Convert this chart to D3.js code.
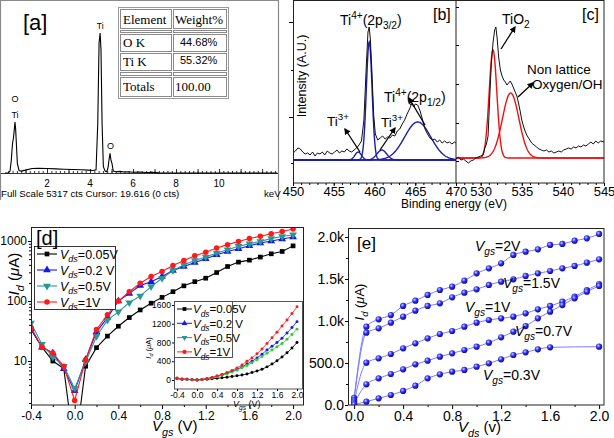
<!DOCTYPE html>
<html>
<head>
<meta charset="utf-8">
<script src="https://cdn.jsdelivr.net/npm/d3@7"></script>
<style>
  body { margin: 0; background: #fff; }
  svg { display: block; font-family: "Liberation Sans", Arial, sans-serif; }
</style>
</head>
<body>
<svg id="fig" width="614" height="438"></svg>
<script>
// ---------- [a] EDS spectrum ----------
const edsKeV = [0.05,0.2,0.28,0.34,0.37,0.40,0.44,0.47,0.51,0.54,0.57,0.62,0.7,0.8,1.0,1.3,1.6,2.0,2.4,2.8,3.2,3.6,3.9,4.15,4.28,4.36,4.42,4.47,4.51,4.56,4.62,4.7,4.78,4.84,4.88,4.93,4.97,5.02,5.08,5.2,5.4,5.6,5.8,6.0,6.3,6.6,6.9,7.2,12.7];
const edsCounts = [0,10,60,400,700,944,1100,1300,1605,1400,1000,300,80,60,90,140,150,140,130,120,110,100,90,80,100,1573,4090,4404,3870,1573,200,60,40,180,400,620,420,300,60,40,50,30,40,25,30,15,20,5,0];
const edsTicks = [2, 4, 6, 8, 10];
const edsTable = [["O K", "44.68%"], ["Ti K", "55.32%"]];
const edsTotal = ["Totals", "100.00"];

// ---------- [b] Ti 2p XPS ----------
const tiEnergy = [450.0,450.3,450.6,450.9,451.2,451.5,451.8,452.1,452.4,452.7,453.0,453.3,453.6,453.9,454.2,454.5,454.8,455.1,455.4,455.7,456.0,456.3,456.6,456.9,457.2,457.5,457.8,458.1,458.4,458.7,459.0,459.2,459.35,459.5,459.7,459.9,460.1,460.4,460.7,461.0,461.3,461.6,461.9,462.2,462.5,462.8,463.1,463.4,463.7,464.0,464.3,464.6,464.8,465.0,465.3,465.6,465.9,466.2,466.5,466.8,467.1,467.4,467.7,468.0,468.3,468.6,468.9,469.2,469.5,469.8,470.0];
const tiIntensity = [7,9,12,11,8,6,7,5,8,4,7,6,8,5,9,7,6,8,10,7,9,8,11,9,8,10,12,15,19,40,95,128,133,120,85,45,26,20,22,24,21,23,22,25,24,29,31,36,40,46,51,57,53,56,55,49,40,31,26,22,20,21,18,20,17,19,17,18,16,18,17];
const tiPeakCenter = [458.0, 459.35, 460.9, 465.3];
const tiPeakHeight = [8, 118, 10, 38];
const tiPeakWidth = [0.4, 0.35, 0.6, 1.6];
const tiTicks = [450, 455, 460, 465, 470];

// ---------- [c] O 1s XPS ----------
const oEnergy = [527.0,527.3,527.6,527.9,528.2,528.5,528.8,529.1,529.4,529.7,530.0,530.3,530.5,530.7,530.9,531.1,531.3,531.5,531.7,531.85,532.0,532.2,532.4,532.6,532.8,533.0,533.2,533.4,533.6,533.8,534.0,534.2,534.4,534.6,534.8,535.0,535.2,535.4,535.6,535.9,536.2,536.5,536.8,537.1,537.4,537.7,538.0,538.3,538.6,538.9,539.2,539.5,539.8,540.1,540.4,540.7,541.0,541.3,541.6,541.9,542.2,542.5,542.8,543.1,543.4,543.7,544.0,544.3,544.6,545.0];
const oIntensity = [-1,1,-2,-1,-3,-5,-3,-2,0,1,2,3,10,14,22,60,95,115,128,131,120,100,88,82,78,76,73,75,77,74,70,66,62,55,47,38,32,27,23,19,15,13,11,9,8,7,8,6,7,5,6,7,6,8,9,10,9,11,10,12,11,13,12,14,16,14,17,15,17,16];
const oPeakCenter = [531.5, 533.65];
const oPeakHeight = [108, 65];
const oPeakWidth = [0.47, 1.0];
const oTicks = [530, 535, 540, 545];

// ---------- [d] transfer curves ----------
const vgs = [-0.4,-0.3,-0.2,-0.1,0.0,0.1,0.2,0.3,0.4,0.5,0.6,0.7,0.8,0.9,1.0,1.1,1.2,1.3,1.4,1.5,1.6,1.7,1.8,1.9,2.0];
const idVds005 = [34,17,10,7.5,0.3,8.2,16.7,26,38,53,71,92,115,143,179,210,240,298,376,445,480,540,612,670,830];
const idVds02  = [34,17,13.6,7.4,3.2,10.5,30.6,53,100,134,181,210,256,322,376,439,505,590,671,745,836,925,1000,1080,1170];
const idVds05  = [43,19,11.7,8.2,3.5,9.6,25.9,48,66,94,121,174,240,322,401,474,540,630,716,815,902,985,1100,1190,1270];
const idVds1   = [36,17,13.6,8.2,2.2,10.5,33.5,59,100,143,198,256,310,390,474,567,650,763,870,985,1100,1197,1320,1445,1590];
const dsLabels = ["0.05V", "0.2 V", "0.5V", "1V"];
// inset (linear scale)
const inVds005 = [34,17,10,7,1,8,16,26,36,48,60,75,90,108,128,160,190,230,280,340,410,490,580,680,800];
const inVds02  = [34,17,14,7,3,10,28,50,80,110,145,185,225,280,340,400,470,550,640,720,800,890,1000,1120,1245];
const inVds05  = [43,19,12,8,4,10,26,45,70,100,130,170,210,260,310,370,430,500,570,640,710,780,870,970,1085];
const inVds1   = [36,17,14,8,2,10,30,55,85,120,160,205,255,320,400,470,560,660,780,900,1020,1150,1280,1420,1560];
const dXTicks = [-0.4, 0.0, 0.4, 0.8, 1.2, 1.6, 2.0];
const dYTicks = [10, 100, 1000];
const inYTicks = [0, 400, 800, 1200, 1600];

// ---------- [e] output curves ----------
const vds = [0.0,0.1,0.2,0.3,0.4,0.5,0.6,0.7,0.8,0.9,1.0,1.1,1.2,1.3,1.4,1.5,1.6,1.7,1.8,1.9,2.0];
const idVgs2  = [85,932,1020,1071,1179,1242,1310,1369,1409,1480,1567,1627,1687,1786,1825,1853,1905,1917,1956,1984,2036];
const idVgs15 = [60,861,913,980,1052,1123,1179,1210,1282,1337,1377,1429,1468,1496,1536,1567,1595,1627,1655,1694,1734];
const idVgs1  = [40,504,556,607,675,734,794,845,881,932,980,1012,1032,1052,1091,1139,1179,1230,1290,1369,1440];
const idVgs07 = [20,246,317,369,425,484,528,575,615,655,694,742,806,873,940,1032,1111,1190,1270,1349,1417];
const vds03   = [0.0,0.1,0.2,0.3,0.4,0.5,0.6,0.7,0.8,0.9,1.0,1.1,1.2,1.3,1.4,1.5,1.6,2.0];
const idVgs03 = [5,40,79,119,167,230,317,365,397,417,456,496,544,595,627,663,687,694];
const eXTicks = [0.0, 0.4, 0.8, 1.2, 1.6, 2.0];
const eYTicks = [0, 500, 1000, 1500, 2000];
const eYLabels = ["0.0", "500.0", "1.0k", "1.5k", "2.0k"];

// ---------- helpers ----------
const svg = d3.select("#fig");
svg.append("rect").attr("width", 614).attr("height", 438).attr("fill", "#fff");
const defs = svg.append("defs");

// text with italic / sub / sup pieces
function rich(g, x, y, parts, size, anchor, rotate) {
  const t = g.append("text").attr("x", x).attr("y", y).attr("font-size", size)
    .attr("text-anchor", anchor || "start");
  if (rotate) t.attr("transform", `rotate(-90,${x},${y})`);
  let cur = 0;
  parts.forEach(p => {
    const s = p.sub ? size * 0.3 : p.sup ? -size * 0.42 : 0;
    const ts = t.append("tspan").attr("dy", (s - cur).toFixed(2)).text(p.t);
    if (p.i) ts.attr("font-style", "italic");
    if (p.sub || p.sup) ts.attr("font-size", (size * (p.k || 0.72)).toFixed(1));
    cur = s;
  });
  return t;
}

function clip(id, x, y, w, h) {
  defs.append("clipPath").attr("id", id).append("rect")
    .attr("x", x).attr("y", y).attr("width", w).attr("height", h);
  return `url(#${id})`;
}

function styleAxis(g, size) {
  g.select(".domain").remove();
  g.selectAll("text").attr("font-size", size).attr("font-family", "Liberation Sans, Arial, sans-serif").attr("fill", "#000");
  g.selectAll("line").attr("stroke", "#000");
}

function arrow(g, x1, y1, x2, y2) {
  g.append("line").attr("x1", x1).attr("y1", y1).attr("x2", x2).attr("y2", y2)
    .attr("stroke", "#000").attr("stroke-width", 1.3).attr("marker-end", "url(#arrowHead)");
}
defs.append("marker").attr("id", "arrowHead").attr("viewBox", "0 0 10 10")
  .attr("refX", 8).attr("refY", 5).attr("markerWidth", 5).attr("markerHeight", 5)
  .attr("orient", "auto")
  .append("path").attr("d", "M0,0L10,5L0,10z").attr("fill", "#000");

function gauss(c, h, w) {
  return e => h * Math.exp(-((e - c) * (e - c)) / (2 * w * w));
}

// ======================= [a] =======================
const ga = svg.append("g");
const xA = d3.scaleLinear().domain([0, 12.74]).range([4, 278]);
const yA = d3.scaleLinear().domain([0, 5317]).range([173, 4]);

ga.append("path").attr("d", "M0.5,200V0.5H278.5V200").attr("fill", "none")
  .attr("stroke", "#8a8a8a").attr("stroke-width", 1.2);

ga.append("g").attr("transform", "translate(0,173)")
  .call(d3.axisTop(xA).tickValues(d3.range(0.2, 12.7, 0.2)).tickSize(2).tickFormat(""))
  .call(g => { g.select(".domain").remove(); g.selectAll("line").attr("stroke", "#333"); });
ga.append("g").attr("transform", "translate(0,173)")
  .call(d3.axisTop(xA).tickValues(d3.range(1, 13, 1)).tickSize(4).tickFormat(""))
  .call(g => { g.select(".domain").remove(); g.selectAll("line").attr("stroke", "#333"); });
ga.append("line").attr("x1", 1).attr("x2", 278).attr("y1", 173.5).attr("y2", 173.5)
  .attr("stroke", "#333").attr("stroke-width", 1);

ga.selectAll("text.tk").data(edsTicks).join("text").attr("class", "tk")
  .attr("x", d => xA(d)).attr("y", 187).attr("text-anchor", "middle")
  .attr("font-size", 10).text(d => d);

ga.append("path").datum(edsKeV.map((k, i) => [k, edsCounts[i]]))
  .attr("d", d3.line().x(d => xA(d[0])).y(d => yA(d[1])))
  .attr("fill", "none").attr("stroke", "#000").attr("stroke-width", 1.1);

ga.append("text").attr("x", xA(4.47)).attr("y", 29).attr("text-anchor", "middle").attr("font-size", 8.5).text("Ti");
ga.append("text").attr("x", xA(0.51)).attr("y", 102).attr("text-anchor", "middle").attr("font-size", 9).text("O");
ga.append("text").attr("x", xA(0.51)).attr("y", 118).attr("text-anchor", "middle").attr("font-size", 9).text("Ti");
ga.append("text").attr("x", xA(4.95)).attr("y", 149).attr("text-anchor", "middle").attr("font-size", 9).text("O");

ga.append("text").attr("x", 23).attr("y", 30).attr("font-size", 22).text("[a]");
ga.append("text").attr("x", 1).attr("y", 197).attr("font-size", 9.7).text("Full Scale 5317 cts Cursor: 19.616  (0 cts)");
ga.append("text").attr("x", 264).attr("y", 197).attr("font-size", 9.7).text("keV");

// table
const tb = ga.append("g").attr("font-family", "Liberation Serif, Times New Roman, serif");
tb.append("rect").attr("x", 118.5).attr("y", 7.5).attr("width", 110).attr("height", 91)
  .attr("fill", "#fff").attr("stroke", "#9a9a9a");
const rowsY = [[9, 19], [30, 2], [34, 17], [53, 17], [72, 3], [77, 19]];
rowsY.forEach(r => {
  tb.append("rect").attr("x", 120.5).attr("y", r[0] + 0.5).attr("width", 51).attr("height", r[1]).attr("fill", "none").attr("stroke", "#8a8a8a");
  tb.append("rect").attr("x", 173.5).attr("y", r[0] + 0.5).attr("width", 53).attr("height", r[1]).attr("fill", "none").attr("stroke", "#8a8a8a");
});
tb.append("text").attr("x", 123).attr("y", 24).attr("font-size", 13).text("Element");
tb.append("text").attr("x", 175).attr("y", 24).attr("font-size", 13).text("Weight%");
edsTable.forEach((r, i) => {
  tb.append("text").attr("x", 123).attr("y", 47 + i * 19).attr("font-size", 13).text(r[0]);
  tb.append("text").attr("x", 180).attr("y", 46 + i * 18).attr("font-size", 11)
    .attr("font-family", "Liberation Sans, Arial, sans-serif").text(r[1]);
});
tb.append("text").attr("x", 123).attr("y", 91).attr("font-size", 13).text(edsTotal[0]);
tb.append("text").attr("x", 175).attr("y", 91).attr("font-size", 13).text(edsTotal[1]);

// ======================= [b] & [c] =======================
const gb = svg.append("g");
const xB = d3.scaleLinear().domain([450, 470]).range([293, 456]);
const yB = d3.scaleLinear().domain([-23, 159]).range([183, 1]);
const xC = d3.scaleLinear().domain([527, 545]).range([456, 604]);
const yC = d3.scaleLinear().domain([-25, 157]).range([183, 1]);

const clipB = clip("clipB", 293, 1, 163, 182);
const clipC = clip("clipC", 456, 1, 148, 182);

// fitted components
const bGrid = d3.range(450, 470.01, 0.05);
tiPeakCenter.forEach((c, i) => {
  const f = gauss(c, tiPeakHeight[i], tiPeakWidth[i]);
  gb.append("path").datum(bGrid).attr("clip-path", clipB)
    .attr("d", d3.line().x(e => xB(e)).y(e => yB(f(e))))
    .attr("fill", "none").attr("stroke", "#1c1ca8").attr("stroke-width", 1.4);
});
gb.append("path").datum(tiEnergy.map((e, i) => [e, tiIntensity[i]])).attr("clip-path", clipB)
  .attr("d", d3.line().x(d => xB(d[0])).y(d => yB(d[1])))
  .attr("fill", "none").attr("stroke", "#111").attr("stroke-width", 1);

const cGrid = d3.range(527, 545.01, 0.05);
oPeakCenter.forEach((c, i) => {
  const f = gauss(c, oPeakHeight[i], oPeakWidth[i]);
  gb.append("path").datum(cGrid).attr("clip-path", clipC)
    .attr("d", d3.line().x(e => xC(e)).y(e => yC(f(e))))
    .attr("fill", "none").attr("stroke", "#f01010").attr("stroke-width", 1.4);
});
gb.append("path").datum(oEnergy.map((e, i) => [e, oIntensity[i]])).attr("clip-path", clipC)
  .attr("d", d3.line().x(d => xC(d[0])).y(d => yC(d[1])))
  .attr("fill", "none").attr("stroke", "#111").attr("stroke-width", 1);

// frames
gb.append("rect").attr("x", 293.5).attr("y", 0.5).attr("width", 310.5).attr("height", 182.5)
  .attr("fill", "none").attr("stroke", "#222");
gb.append("line").attr("x1", 456).attr("x2", 456).attr("y1", 0.5).attr("y2", 183).attr("stroke", "#222");

// axes
gb.append("g").attr("transform", "translate(0,183)")
  .call(d3.axisBottom(xB).tickValues(tiTicks).tickSize(3).tickPadding(1))
  .call(g => styleAxis(g, 13));
gb.append("g").attr("transform", "translate(0,183)")
  .call(d3.axisBottom(xB).tickValues(d3.range(451, 470, 1)).tickSize(2).tickFormat(""))
  .call(g => styleAxis(g, 13));
gb.append("g").attr("transform", "translate(0,183)")
  .call(d3.axisBottom(xC).tickValues(oTicks).tickSize(3).tickPadding(1))
  .call(g => styleAxis(g, 13));
gb.append("g").attr("transform", "translate(0,183)")
  .call(d3.axisBottom(xC).tickValues(d3.range(528, 545, 1)).tickSize(2).tickFormat(""))
  .call(g => styleAxis(g, 13));
gb.append("g").attr("transform", "translate(293,0)")
  .call(d3.axisLeft(yB).tickValues([43, 138]).tickSize(4).tickFormat(""))
  .call(g => styleAxis(g, 13));
gb.append("g").attr("transform", "translate(293,0)")
  .call(d3.axisLeft(yB).tickValues([-3, 90]).tickSize(2).tickFormat(""))
  .call(g => styleAxis(g, 13));
gb.append("g").attr("transform", "translate(456,0)")
  .call(d3.axisRight(yC).tickValues([-3, 35, 74, 113, 151]).tickSize(3).tickFormat(""))
  .call(g => styleAxis(g, 13));

gb.append("text").attr("x", 454).attr("y", 207.5).attr("text-anchor", "middle").attr("font-size", 12)
  .text("Binding energy (eV)");
gb.append("text").attr("transform", "translate(306,76) rotate(-90)").attr("text-anchor", "middle")
  .attr("font-size", 12.5).text("Intensity (A.U.)");
gb.append("text").attr("x", 433).attr("y", 20).attr("font-size", 16).text("[b]");
gb.append("text").attr("x", 582).attr("y", 20).attr("font-size", 16).text("[c]");

rich(gb, 340, 25, [{ t: "Ti" }, { t: "4+", sup: 1 }, { t: "(2p", k: 1 }, { t: "3/2", sub: 1 }, { t: ")" }], 14);
rich(gb, 384, 102, [{ t: "Ti" }, { t: "4+", sup: 1 }, { t: "(2p" }, { t: "1/2", sub: 1 }, { t: ")" }], 14);
rich(gb, 327, 126, [{ t: "Ti" }, { t: "3+", sup: 1 }], 13.5);
rich(gb, 381, 127, [{ t: "Ti" }, { t: "3+", sup: 1 }], 13.5);
arrow(gb, 360, 152, 345, 129);
arrow(gb, 380, 150, 395, 128);
arrow(gb, 425, 125, 409, 98);

rich(gb, 502, 24, [{ t: "TiO" }, { t: "2", sub: 1 }], 14);
gb.append("text").attr("x", 527).attr("y", 74).attr("font-size", 13.5).text("Non lattice");
gb.append("text").attr("x", 532).attr("y", 89).attr("font-size", 13.5).text("Oxygen/OH");
arrow(gb, 501, 49, 515, 27);
arrow(gb, 518, 97, 533, 83);

// ======================= [d] =======================
const gd = svg.append("g");
const xD = d3.scaleLinear().domain([-0.4, 2.1]).range([31, 304]);
const yD = d3.scaleLog().domain([1.85, 1712]).range([405, 227]);
const clipD = clip("clipD", 31, 227, 273, 178);

const dSeries = [
  { v: idVds005, inV: inVds005, color: "#000", inColor: "#000", sym: d3.symbolSquare, rot: 0, size: 22 },
  { v: idVds02, inV: inVds02, color: "#1515f5", inColor: "#1515f5", sym: d3.symbolTriangle, rot: 0, size: 26 },
  { v: idVds05, inV: inVds05, color: "#2a9696", inColor: "#2ccf2c", sym: d3.symbolTriangle, rot: 180, size: 26 },
  { v: idVds1, inV: inVds1, color: "#ff1a1a", inColor: "#ff1a1a", sym: d3.symbolCircle, rot: 0, size: 24 }
];

gd.append("g").attr("transform", "translate(0,405)")
  .call(d3.axisBottom(xD).tickValues(dXTicks).tickFormat(d => d.toFixed(1)).tickSize(4).tickPadding(2))
  .call(g => styleAxis(g, 12));
gd.append("g").attr("transform", "translate(0,405)")
  .call(d3.axisBottom(xD).tickValues([-0.2, 0.2, 0.6, 1.0, 1.4, 1.8]).tickSize(2).tickFormat(""))
  .call(g => styleAxis(g, 12));
gd.append("g").attr("transform", "translate(31,0)")
  .call(d3.axisLeft(yD).tickValues(dYTicks).tickFormat(d3.format("d")).tickSize(3).tickPadding(1))
  .call(g => styleAxis(g, 12));
gd.append("g").attr("transform", "translate(31,0)")
  .call(d3.axisLeft(yD).tickValues([2,3,4,5,6,7,8,9,20,30,40,50,60,70,80,90,200,300,400,500,600,700,800,900]).tickSize(2).tickFormat(""))
  .call(g => styleAxis(g, 12));

const plotD = gd.append("g").attr("clip-path", clipD);
dSeries.forEach(s => {
  const pts = vgs.map((x, i) => [x, s.v[i]]);
  plotD.append("path").datum(pts)
    .attr("d", d3.line().x(d => xD(d[0])).y(d => yD(Math.max(d[1], 0.05))))
    .attr("fill", "none").attr("stroke", s.color).attr("stroke-width", 1.1);
  plotD.selectAll(null).data(pts).join("path")
    .attr("transform", d => `translate(${xD(d[0])},${yD(Math.max(d[1], 0.05))}) rotate(${s.rot})`)
    .attr("d", d3.symbol().type(s.sym).size(s.size)).attr("fill", s.color);
});
gd.append("rect").attr("x", 31.5).attr("y", 227.5).attr("width", 272).attr("height", 177.5)
  .attr("fill", "none").attr("stroke", "#222");

// legend
const lg = gd.append("g");
lg.append("rect").attr("x", 34.5).attr("y", 246.5).attr("width", 81).attr("height", 63)
  .attr("fill", "#fff").attr("stroke", "#222").attr("stroke-width", 0.9);
dSeries.forEach((s, i) => {
  const y = 254 + i * 16;
  lg.append("line").attr("x1", 37).attr("x2", 57).attr("y1", y).attr("y2", y).attr("stroke", s.color).attr("stroke-width", 1.1);
  lg.append("path").attr("transform", `translate(47,${y}) rotate(${s.rot})`)
    .attr("d", d3.symbol().type(s.sym).size(s.size)).attr("fill", s.color);
  rich(lg, 60, y + 4.5, [{ t: "V", i: 1 }, { t: "ds", i: 1, sub: 1 }, { t: "=" + dsLabels[i] }], 12.5);
});
gd.append("text").attr("x", 36).attr("y", 245).attr("font-size", 20).text("[d]");
rich(gd, 152, 431, [{ t: "V", i: 1 }, { t: "gs", i: 1, sub: 1 }, { t: " (V)" }], 15);
rich(gd, 19, 274, [{ t: "I", i: 1 }, { t: "d", i: 1, sub: 1 }, { t: " (" }, { t: "μ", i: 1 }, { t: "A)" }], 15, "middle", true);

// inset
const xI = d3.scaleLinear().domain([-0.46, 2.1]).range([174, 302]);
const yI = d3.scaleLinear().domain([-192, 1685]).range([389, 301]);
const gi = gd.append("g");
gi.append("rect").attr("x", 174.5).attr("y", 301.5).attr("width", 128).attr("height", 87.5)
  .attr("fill", "#fff").attr("stroke", "#444").attr("stroke-width", 0.9);
const clipI = clip("clipI", 174, 301, 128, 88);
const plotI = gi.append("g").attr("clip-path", clipI);
dSeries.forEach(s => {
  const pts = vgs.map((x, i) => [x, s.inV[i]]);
  plotI.append("path").datum(pts)
    .attr("d", d3.line().x(d => xI(d[0])).y(d => yI(d[1])))
    .attr("fill", "none").attr("stroke", s.inColor).attr("stroke-width", 0.8);
  plotI.selectAll(null).data(pts).join("path")
    .attr("transform", d => `translate(${xI(d[0])},${yI(d[1])}) rotate(${s.rot})`)
    .attr("d", d3.symbol().type(d3.symbolCircle).size(7)).attr("fill", s.inColor);
});
gi.append("g").attr("transform", "translate(0,389)")
  .call(d3.axisBottom(xI).tickValues(dXTicks).tickFormat(d => d.toFixed(1)).tickSize(2).tickPadding(1))
  .call(g => styleAxis(g, 8.5));
gi.append("g").attr("transform", "translate(174,0)")
  .call(d3.axisLeft(yI).tickValues(inYTicks).tickFormat(d3.format("d")).tickSize(2).tickPadding(1))
  .call(g => styleAxis(g, 8.5));
rich(gi, 233, 407, [{ t: "V", i: 1 }, { t: "gs", i: 1, sub: 1 }, { t: " (V)" }], 9);
rich(gi, 151, 348, [{ t: "I", i: 1 }, { t: "d", i: 1, sub: 1 }, { t: " (" }, { t: "μ", i: 1 }, { t: "A)" }], 7.5, "middle", true);

const il = gi.append("g");
il.append("rect").attr("x", 174.5).attr("y", 301.5).attr("width", 58).attr("height", 56)
  .attr("fill", "#fff").attr("stroke", "#444").attr("stroke-width", 0.9);
dSeries.forEach((s, i) => {
  const y = 309 + i * 14.3;
  il.append("line").attr("x1", 177).attr("x2", 192).attr("y1", y).attr("y2", y).attr("stroke", s.color).attr("stroke-width", 1);
  il.append("path").attr("transform", `translate(184.5,${y}) rotate(${s.rot})`)
    .attr("d", d3.symbol().type(s.sym).size(14)).attr("fill", s.color);
  rich(il, 193, y + 4.3, [{ t: "V", i: 1 }, { t: "ds", i: 1, sub: 1 }, { t: "=" + dsLabels[i] }], 11.5);
});

// ======================= [e] =======================
const ge = svg.append("g");
const xE = d3.scaleLinear().domain([-0.05, 2.04]).range([348, 604]);
const yE = d3.scaleLinear().domain([0, 2107]).range([405, 228]);
const clipE = clip("clipE", 348, 228, 256, 177);

const grad = defs.append("radialGradient").attr("id", "ball").attr("cx", "38%").attr("cy", "35%").attr("r", "70%");
grad.append("stop").attr("offset", "0%").attr("stop-color", "#d0d0ff");
grad.append("stop").attr("offset", "45%").attr("stop-color", "#3030f0");
grad.append("stop").attr("offset", "100%").attr("stop-color", "#0000a8");

ge.append("g").attr("transform", "translate(0,405)")
  .call(d3.axisBottom(xE).tickValues(eXTicks).tickFormat(d => d.toFixed(1)).tickSize(4).tickPadding(2))
  .call(g => styleAxis(g, 14));
ge.append("g").attr("transform", "translate(0,405)")
  .call(d3.axisBottom(xE).tickValues([0.2, 0.6, 1.0, 1.4, 1.8]).tickSize(2).tickFormat(""))
  .call(g => styleAxis(g, 14));
ge.append("g").attr("transform", "translate(348,0)")
  .call(d3.axisLeft(yE).tickValues(eYTicks).tickFormat((d, i) => eYLabels[i]).tickSize(3).tickPadding(1))
  .call(g => styleAxis(g, 14));
ge.append("g").attr("transform", "translate(348,0)")
  .call(d3.axisLeft(yE).tickValues([250, 750, 1250, 1750]).tickSize(2).tickFormat(""))
  .call(g => styleAxis(g, 14));

const eSeries = [
  { x: vds, y: idVgs2 }, { x: vds, y: idVgs15 }, { x: vds, y: idVgs1 },
  { x: vds, y: idVgs07 }, { x: vds03, y: idVgs03 }
];
const plotE = ge.append("g").attr("clip-path", clipE);
eSeries.forEach(s => {
  const pts = s.x.map((x, i) => [x, s.y[i]]);
  plotE.append("path").datum(pts)
    .attr("d", d3.line().curve(d3.curveMonotoneX).x(d => xE(d[0])).y(d => yE(d[1])))
    .attr("fill", "none").attr("stroke", "#7c7cff").attr("stroke-width", 1);
});
eSeries.forEach(s => {
  plotE.selectAll(null).data(s.x.map((x, i) => [x, s.y[i]])).join("circle")
    .attr("cx", d => xE(d[0])).attr("cy", d => yE(d[1])).attr("r", 3.1)
    .attr("fill", "url(#ball)");
});
ge.append("rect").attr("x", 348.5).attr("y", 228.5).attr("width", 255.5).attr("height", 176.5)
  .attr("fill", "none").attr("stroke", "#222");

ge.append("text").attr("x", 357).attr("y", 249).attr("font-size", 17).text("[e]");
rich(ge, 364, 302, [{ t: "I", i: 1 }, { t: "d", i: 1, sub: 1 }, { t: " (" }, { t: "μ", i: 1 }, { t: "A)" }], 13, "middle", true);
rich(ge, 458, 432, [{ t: "V", i: 1 }, { t: "ds", i: 1, sub: 1 }, { t: " (v)" }], 15);

const eLabels = [["2V", 475, 251], ["1.5V", 503, 288], ["1V", 465, 312], ["0.7V", 515, 336], ["0.3V", 483, 380]];
eLabels.forEach(l => rich(ge, l[1], l[2], [{ t: "V", i: 1 }, { t: "gs", i: 1, sub: 1 }, { t: "=" + l[0] }], 14));
</script>
</body>
</html>
